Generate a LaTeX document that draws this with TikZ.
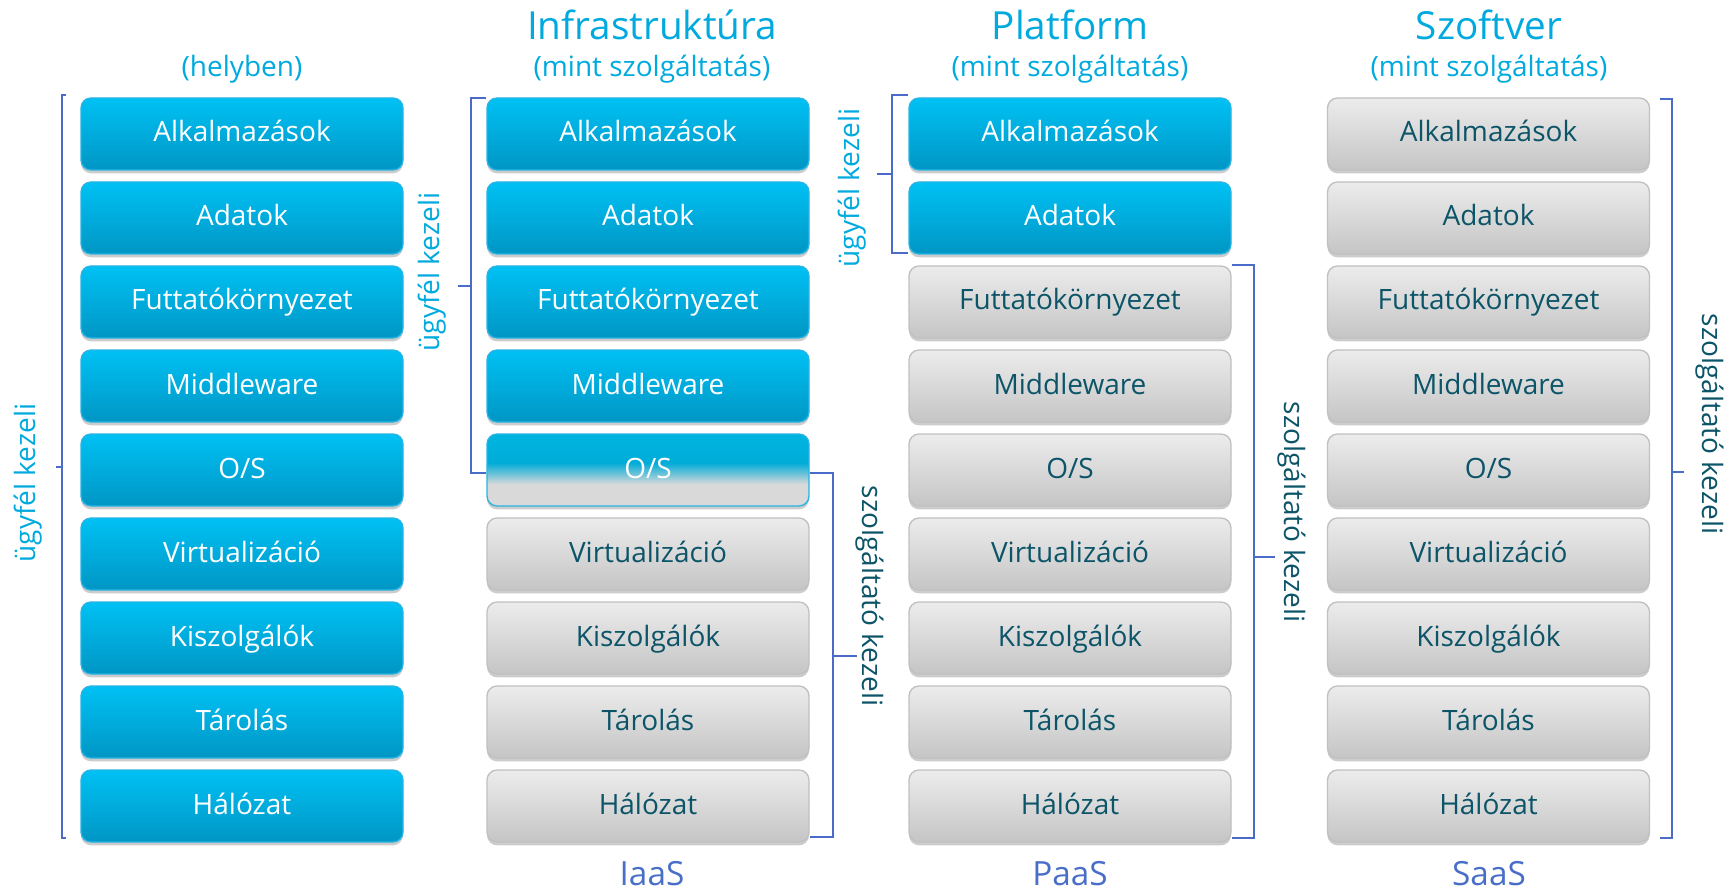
\documentclass[tikz,border=0pt]{standalone}
\usepackage{fontspec}
\setmainfont{Open Sans}
\usetikzlibrary{shadows,calc}
\definecolor{cyTop}{RGB}{0,193,244}
\definecolor{cyBot}{RGB}{0,150,196}
\definecolor{cyBorder}{RGB}{40,180,228}
\definecolor{gyTop}{RGB}{236,236,236}
\definecolor{gyBot}{RGB}{197,197,197}
\definecolor{gyBorder}{RGB}{192,192,192}
\definecolor{gyText}{RGB}{12,84,104}
\definecolor{osGray}{RGB}{217,217,217}
\definecolor{osCyanA}{RGB}{0,180,224}
\definecolor{osCyanB}{RGB}{0,172,216}
\definecolor{hdCyan}{RGB}{0,170,222}
\definecolor{brkCol}{RGB}{74,108,200}
\definecolor{aasCol}{RGB}{72,110,200}
\pgfdeclareverticalshading{osshade}{100bp}{color(0bp)=(osGray); color(40bp)=(osGray); color(55bp)=(osCyanB); color(75bp)=(osCyanA); color(100bp)=(osCyanA)}
\tikzset{
  box/.style={rounded corners=7.5pt, minimum width=241.5pt, minimum height=54pt,
    inner sep=0pt, text height=12pt, text depth=0pt,
    font=\fontsize{21pt}{25pt}\selectfont, line width=1pt,
    drop shadow={shadow xshift=0pt, shadow yshift=-2.5pt, opacity=0.2, fill=black}},
  bluebox/.style={box, draw=cyBorder, top color=cyTop, bottom color=cyBot, text=white},
  graybox/.style={box, draw=gyBorder, top color=gyTop, bottom color=gyBot, text=gyText},
  osbox/.style={box, draw=cyBorder, shade, shading=osshade, text=white},
  brk/.style={draw=brkCol, line width=1.5pt},
  lblcy/.style={text=hdCyan, font=\fontsize{21pt}{25pt}\selectfont, inner sep=0pt},
  lbldk/.style={text=gyText, font=\fontsize{21pt}{25pt}\selectfont, inner sep=0pt},
  hdbig/.style={text=hdCyan, font=\fontsize{29pt}{34pt}\selectfont, inner sep=0pt, anchor=base},
  hdsmall/.style={text=hdCyan, font=\fontsize{21pt}{25pt}\selectfont, inner sep=0pt, anchor=base},
  aas/.style={text=aasCol, font=\fontsize{25pt}{30pt}\selectfont, inner sep=0pt, anchor=base}
}
\begin{document}
\begin{tikzpicture}[x=0.75pt, y=-0.75pt]
\useasboundingbox (0,0) rectangle (1734,891);

% column 1: on premises
\foreach \t [count=\i from 0] in {Alkalmazások,Adatok,Futtatókörnyezet,Middleware,O/S,Virtualizáció,Kiszolgálók,Tárolás,Hálózat}{
  \pgfmathsetmacro\yy{134+84*\i}
  \node[bluebox] (c1r\i) at (242,\yy) {\t};
}
% column 2: IaaS
\foreach \t [count=\i from 0] in {Alkalmazások,Adatok,Futtatókörnyezet,Middleware,O/S,Virtualizáció,Kiszolgálók,Tárolás,Hálózat}{
  \pgfmathsetmacro\yy{134+84*\i}
  \ifnum\i<4 \node[bluebox] (c2r\i) at (648,\yy) {\t};
  \else\ifnum\i=4 \node[osbox] (c2r\i) at (648,\yy) {\t};
  \else \node[graybox] (c2r\i) at (648,\yy) {\t};\fi\fi
}
% column 3: PaaS
\foreach \t [count=\i from 0] in {Alkalmazások,Adatok,Futtatókörnyezet,Middleware,O/S,Virtualizáció,Kiszolgálók,Tárolás,Hálózat}{
  \pgfmathsetmacro\yy{134+84*\i}
  \ifnum\i<2 \node[bluebox] (c3r\i) at (1070,\yy) {\t};
  \else \node[graybox] (c3r\i) at (1070,\yy) {\t};\fi
}
% column 4: SaaS
\foreach \t [count=\i from 0] in {Alkalmazások,Adatok,Futtatókörnyezet,Middleware,O/S,Virtualizáció,Kiszolgálók,Tárolás,Hálózat}{
  \pgfmathsetmacro\yy{134+84*\i}
  \node[graybox] (c4r\i) at (1488.5,\yy) {\t};
}

% headers
\node[hdsmall] (h1) at (242,77) {(helyben)};
\node[hdbig] (h2) at (652,40) {Infrastruktúra};
\node[hdsmall] (h2s) at (652,77) {(mint szolgáltatás)};
\node[hdbig] (h3) at (1070,40) {Platform};
\node[hdsmall] (h3s) at (1070,77) {(mint szolgáltatás)};
\node[hdbig] (h4) at (1489,40) {Szoftver};
\node[hdsmall] (h4s) at (1489,77) {(mint szolgáltatás)};

% bottom labels
\node[aas] (f2) at (652,885) {IaaS};
\node[aas] (f3) at (1070,885) {PaaS};
\node[aas] (f4) at (1489,885) {SaaS};

% column 1 bracket
\draw[brk] ($(c1r0.north west)+(-14,-2)$) -- ++(-4,0) |- ($(c1r8.south west)+(-14,-5)$);
\draw[brk] ($(c1r0.north west)!0.5!(c1r8.south west)+(-18,-3)$) -- ++(-6,0);
\node[lblcy, rotate=90] (l1) at (28,483) {ügyfél kezeli};

% column 2 brackets
\draw[brk] ($(c2r0.north west)+(0,1)$) -- ++(-15,0) |- ($(c2r4.west)+(0,3)$);
\draw[brk] ($(c2r0.north west)!0.5!(c2r4.west)+(-15,2)$) -- ++(-13,0);
\node[lblcy, rotate=90] (l2) at (432,272) {ügyfél kezeli};
\draw[brk] ($(c2r4.east)+(0,3)$) -- ++(23,0) |- ($(c2r8.south east)+(0,-6)$);
\draw[brk] ($(c2r4.east)!0.5!(c2r8.south east)+(23,0)$) -- ++(24,0);
\node[lbldk, rotate=-90] (l2r) at (870,596) {szolgáltató kezeli};

% column 3 brackets
\draw[brk] ($(c3r0.north west)+(0,-2)$) -- ++(-16,0) |- ($(c3r1.south west)+(0,-2)$);
\draw[brk] ($(c3r0.north west)!0.5!(c3r1.south west)+(-16,-2)$) -- ++(-15,0);
\node[lblcy, rotate=90] (l3) at (852,188) {ügyfél kezeli};
\draw[brk] (c3r2.north east) -- ++(22,0) |- ($(c3r8.south east)+(0,-5)$);
\draw[brk] ($(c3r2.north east)!0.5!(c3r8.south east)+(22,2.5)$) -- ++(21,0);
\node[lbldk, rotate=-90] (l3r) at (1292,512) {szolgáltató kezeli};

% column 4 bracket
\draw[brk] ($(c4r0.north east)+(10,2)$) -- ++(12,0) |- ($(c4r8.south east)+(10,-5)$);
\draw[brk] ($(c4r0.north east)!0.5!(c4r8.south east)+(22,1.5)$) -- ++(12,0);
\node[lbldk, rotate=-90] (l4r) at (1710,424) {szolgáltató kezeli};
\end{tikzpicture}
\end{document}
